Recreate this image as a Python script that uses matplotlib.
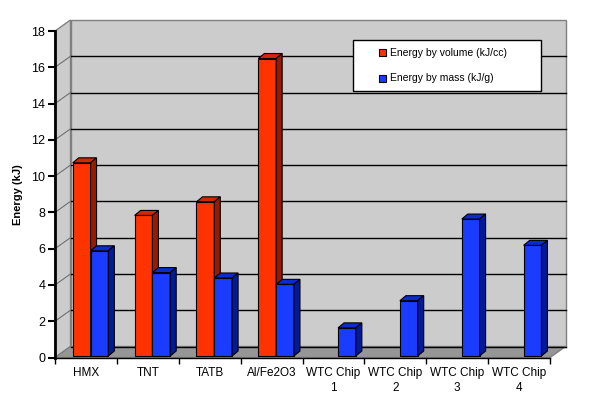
import numpy as np
import matplotlib.pyplot as plt
from matplotlib.patches import Polygon, Rectangle

plt.rcParams['font.family'] = ['Liberation Sans', 'DejaVu Sans']

categories = ['HMX', 'TNT', 'TATB', 'Al/Fe2O3', 'WTC Chip\n1', 'WTC Chip\n2',
              'WTC Chip\n3', 'WTC Chip\n4']
by_volume = [10.65, 7.75, 8.5, 16.4, np.nan, np.nan, np.nan, np.nan]
by_mass = [5.8, 4.6, 4.3, 3.95, 1.55, 3.05, 7.55, 6.1]
series_names = ['Energy by volume (kJ/cc)', 'Energy by mass (kJ/g)']
yticks = np.arange(0, 19, 2)

W, H = 599, 396
fig = plt.figure(figsize=(W / 100, H / 100), dpi=100)

# front plane of the 3d box, in pixels
x_left, x_right, y_zero, y_top = 55, 550, 357.5, 31
ax = fig.add_axes([x_left / W, (H - y_zero) / H, (x_right - x_left) / W, (y_zero - y_top) / H])
ax.set_xlim(-0.5, len(categories) - 0.5)
ax.set_ylim(0, 18)
ax.patch.set_visible(False)

sx = (x_right - x_left) / len(categories)
sy = (y_zero - y_top) / 18
DX, DY = 15.5 / sx, 11 / sy          # wall depth
BW = 17.8 / sx                       # bar width
BDX, BDY = 6 / sx, 5 / sy            # bar depth
SHX, SHY = 4.6 / sx, 1.5 / sy        # bar shift into the box

x0, x1 = -0.5, len(categories) - 0.5
wall = '#cccccc'
edge = '#808080'
ax.add_patch(Polygon([(x0 + DX, DY), (x1 + DX, DY), (x1 + DX, 18 + DY), (x0 + DX, 18 + DY)],
                     closed=True, fc=wall, ec=edge, lw=1, clip_on=False, zorder=0))
ax.add_patch(Polygon([(x0, 0), (x0 + DX, DY), (x0 + DX, 18 + DY), (x0, 18)],
                     closed=True, fc=wall, ec=edge, lw=1, clip_on=False, zorder=0))
ax.add_patch(Polygon([(x0, 0), (x1, 0), (x1 + DX, DY), (x0 + DX, DY)],
                     closed=True, fc='#969696', ec=edge, lw=1, clip_on=False, zorder=1))
for v in yticks[:-1]:
    ax.plot([x0 + DX, x1 + DX], [v + DY, v + DY], color='black', lw=1, clip_on=False, zorder=2)
for v in yticks[1:-1]:
    ax.plot([x0, x0 + DX], [v, v + DY], color='#707070', lw=0.8, clip_on=False, zorder=2)

colors = [('#ff3300', '#cc2900', '#991a00'), ('#1a3cff', '#0a2ccc', '#001a99')]


def bar3d(xl, val, cols):
    front, top, side = cols
    yb, yt = SHY, SHY + val
    ax.add_patch(Rectangle((xl, yb), BW, val, fc=front, ec='black', lw=0.8,
                           clip_on=False, zorder=3))
    ax.add_patch(Polygon([(xl, yt), (xl + BW, yt), (xl + BW + BDX, yt + BDY), (xl + BDX, yt + BDY)],
                         closed=True, fc=top, ec='black', lw=0.8, clip_on=False, zorder=3))
    ax.add_patch(Polygon([(xl + BW, yb), (xl + BW + BDX, yb + BDY), (xl + BW + BDX, yt + BDY), (xl + BW, yt)],
                         closed=True, fc=side, ec='black', lw=0.8, clip_on=False, zorder=3))


for i in range(len(categories)):
    for k, vals in enumerate([by_volume, by_mass]):
        if not np.isnan(vals[i]):
            bar3d(i - BW + SHX + k * BW, vals[i], colors[k])

for s in ['top', 'right']:
    ax.spines[s].set_visible(False)
ax.spines['left'].set_linewidth(2)
ax.spines['bottom'].set_linewidth(1)

ax.set_yticks(yticks)
ax.tick_params(axis='y', direction='out', length=5, width=1.5, labelsize=9, pad=2)
ax.set_xticks(range(len(categories)))
ax.set_xticklabels(categories, linespacing=1.3)
ax.set_xticks(np.arange(x0, x1 + 0.1, 1), minor=True)
ax.tick_params(axis='x', which='major', length=0, labelsize=8.5, pad=7)
ax.tick_params(axis='x', which='minor', length=4.5, width=1, direction='out')

fig.text(18 / W, 1 - 195 / H, 'Energy (kJ)', rotation=90, ha='center', va='center',
         fontsize=8, fontweight='bold')

# legend box
fig.patches.append(Rectangle((353 / W, 1 - 91 / H), 188 / W, 51 / H, transform=fig.transFigure,
                             fc='white', ec='black', lw=1, zorder=5))
for k, (name, yc) in enumerate(zip(series_names, [52.5, 78.3])):
    fig.patches.append(Rectangle((379.3 / W, 1 - (yc + 3.6) / H), 7 / W, 7 / H,
                                 transform=fig.transFigure, fc=colors[k][0], ec='black',
                                 lw=0.8, zorder=6))
    fig.text(390 / W, 1 - yc / H, name, ha='left', va='center', fontsize=7.5, zorder=6)

fig.savefig('out.png', dpi=100)
